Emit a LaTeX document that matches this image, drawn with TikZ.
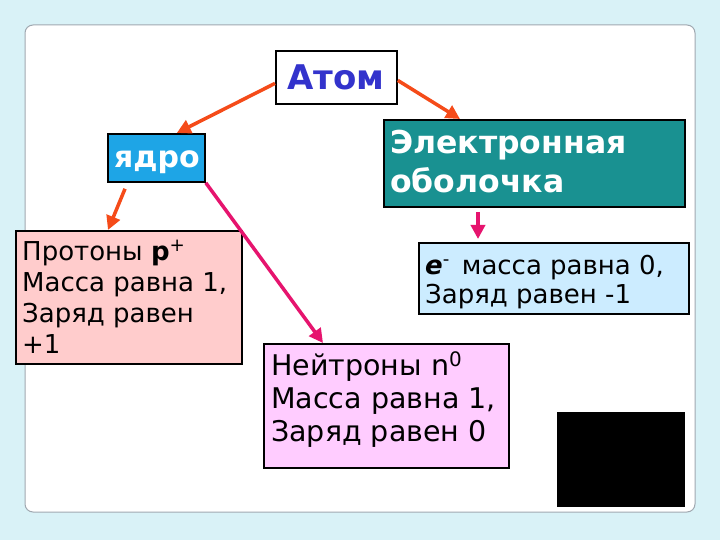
\documentclass[tikz,border=0pt]{standalone}
\usepackage{fontspec}
\setmainfont{DejaVu Sans}
\usetikzlibrary{arrows.meta,calc}
\definecolor{bgc}{RGB}{217,242,247}
\definecolor{panelb}{RGB}{160,168,176}
\definecolor{atomblue}{RGB}{51,51,204}
\definecolor{yadroc}{RGB}{30,165,230}
\definecolor{tealc}{RGB}{25,145,145}
\definecolor{pinkc}{RGB}{255,204,204}
\definecolor{lbluec}{RGB}{204,236,255}
\definecolor{magc}{RGB}{255,204,255}
\definecolor{arrO}{RGB}{245,75,25}
\definecolor{arrM}{RGB}{230,20,110}
\begin{document}
\begin{tikzpicture}[x=1pt,y=-1pt,
 boxst/.style={draw=black, line width=1.8pt, anchor=north west, inner sep=0pt},
 txt/.style={anchor=north west, align=left, inner sep=0pt, text=black},
 arO/.style={draw=arrO, line width=3.5pt, -{Triangle[length=14pt,width=14pt]}},
 arM/.style={draw=arrM, line width=3.5pt, -{Triangle[length=14pt,width=14pt]}}]
\useasboundingbox (0,0) rectangle (720,540);
\fill[bgc] (0,0) rectangle (720,540);
\draw[panelb, line width=1pt, fill=white, rounded corners=8pt] (25,25) rectangle (695,512);

% boxes
\node[boxst, fill=white, minimum width=121pt, minimum height=53pt] (atom) at (275,50) {};
\node[boxst, fill=yadroc, minimum width=97pt, minimum height=48pt] (yadro) at (107,133) {};
\node[boxst, fill=tealc, minimum width=301pt, minimum height=87pt] (elek) at (383,119) {};
\node[boxst, fill=pinkc, minimum width=226pt, minimum height=133pt] (prot) at (15,230) {};
\node[boxst, fill=lbluec, minimum width=270pt, minimum height=71pt] (ebox) at (418,242) {};
\node[boxst, fill=magc, minimum width=245pt, minimum height=124pt] (neut) at (263,343) {};
\node[fill=black, anchor=north west, inner sep=0pt, minimum width=128pt, minimum height=95pt] (blk) at (557,412) {};

% texts
\node[font=\fontsize{34}{40}\selectfont\bfseries, text=atomblue, anchor=base, inner sep=0pt] (atomT) at (336,90) {Атом};
\node[font=\fontsize{30}{34}\selectfont\bfseries, text=white, anchor=base, inner sep=0pt] (yadroT) at (157,168) {ядро};
\node[txt, text=white, font=\fontsize{31.5}{39}\selectfont\bfseries] (elekT) at (390,129) {\rule{0pt}{24pt}Электронная\\оболочка};
\node[txt, font=\fontsize{26}{31}\selectfont] (protT) at (22,236) {\rule{0pt}{24pt}Протоны \textbf{p}\textsuperscript{+}\\Масса равна 1,\\Заряд равен\\+1};
\node[txt, font=\fontsize{26}{29}\selectfont] (eboxT) at (425,250) {\rule{0pt}{24pt}\textbf{\textit{e}}\textsuperscript{-}\hspace{12pt}масса равна 0,\\Заряд равен -1};
\node[txt, font=\fontsize{28.5}{33}\selectfont] (neutT) at (271,349) {\rule{0pt}{26pt}Нейтроны n\textsuperscript{0}\\Масса равна 1,\\Заряд равен 0};

% arrows
\draw[arO] ([yshift=-6pt]atom.west) -- ([xshift=-29pt]yadro.north east);
\draw[arO] ([yshift=-3pt]atom.east) -- ([xshift=77pt]elek.north west);
\draw[arO] ([xshift=18pt,yshift=-6pt]yadro.south west) -- ([xshift=93pt]prot.north west);
\draw[arM] (yadro.south east) -- ([xshift=60pt]neut.north west);
\draw[arM] ([xshift=95pt,yshift=-4pt]elek.south west) -- ([xshift=60pt,yshift=3pt]ebox.north west);
\end{tikzpicture}
\end{document}
